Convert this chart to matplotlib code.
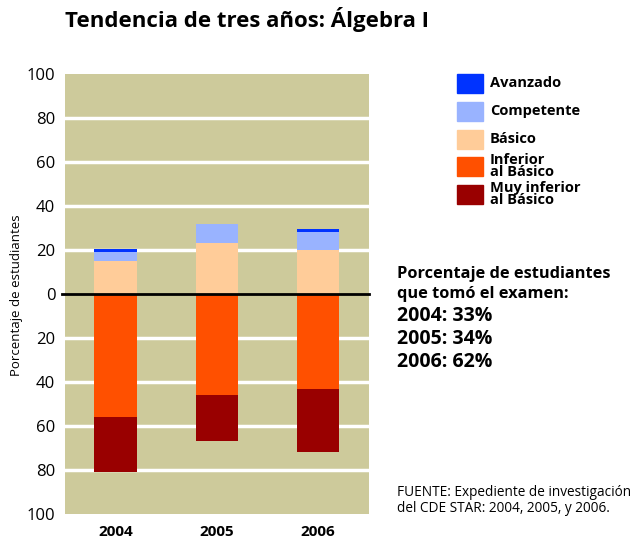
import numpy as np
import matplotlib.pyplot as plt
from matplotlib.patches import Rectangle

plt.rcParams['font.family'] = ['Open Sans', 'DejaVu Sans']

years = ['2004', '2005', '2006']
avanzado = [1.5, 0, 1.5]
competente = [4, 9, 8]
basico = [15, 23, 20]
inferior = [56, 46, 43]
muy_inferior = [25, 21, 29]
participacion = ['2004: 33%', '2005: 34%', '2006: 62%']

niveles = ['Avanzado', 'Competente', 'Básico', 'Inferior\nal Básico', 'Muy inferior\nal Básico']
colores = ['#0033ff', '#99b3ff', '#ffcc99', '#ff5000', '#990000']

fig = plt.figure(figsize=(6.38, 5.42), dpi=100)
ax = fig.add_axes([0.102, 0.0517, 0.476, 0.812])
ax.set_facecolor('#cdca9b')

x = np.arange(len(years))
w = 0.42
bas = np.array(basico)
comp = np.array(competente)
ax.bar(x, bas, w, color=colores[2], zorder=3)
ax.bar(x, comp, w, bottom=bas, color=colores[1], zorder=3)
ax.bar(x, avanzado, w, bottom=bas + comp, color=colores[0], zorder=3)
inf = -np.array(inferior)
ax.bar(x, inf, w, color=colores[3], zorder=3)
ax.bar(x, -np.array(muy_inferior), w, bottom=inf, color=colores[4], zorder=3)

ax.set_xlim(-0.5, 2.5)
ax.set_ylim(-100, 100)
ticks = np.arange(-100, 101, 20)
ax.set_yticks(ticks)
ax.set_yticklabels([str(abs(t)) for t in ticks], fontsize=12)
ax.set_xticks(x)
ax.set_xticklabels(years, fontsize=11, fontweight='bold')
ax.tick_params(length=0, pad=7)
ax.tick_params(axis='x', pad=8)
for s in ax.spines.values():
    s.set_visible(False)
for t in ticks[1:-1]:
    if t != 0:
        ax.axhline(t, color='white', lw=2.5, zorder=2)
ax.axhline(0, color='black', lw=2, zorder=4, xmin=-0.01, clip_on=False)

W, H = 638, 542
fig.text(17 / W, 1 - 295 / H, 'Porcentaje de estudiantes', fontsize=9.5,
         rotation=90, ha='center', va='center')

fig.text(65 / W, 1 - 20 / H, 'Tendencia de tres años: Álgebra I', fontsize=16,
         fontweight='bold', va='center')

# leyenda
ys = [83, 111, 139, 166, 194]
for lab, col, yc in zip(niveles, colores, ys):
    fig.patches.append(Rectangle((457 / W, (H - yc - 9.5) / H), 26 / W, 19 / H,
                                 color=col, transform=fig.transFigure))
    fig.text(490 / W, (H - yc) / H, lab, fontsize=10.5, fontweight='bold',
             va='center', linespacing=0.85)

fig.text(397 / W, 1 - 274 / H, 'Porcentaje de estudiantes', fontsize=11.8,
         fontweight='bold', va='center')
fig.text(397 / W, 1 - 294 / H, 'que tomó el examen:', fontsize=11.8,
         fontweight='bold', va='center')
for i, s in enumerate(participacion):
    fig.text(397 / W, 1 - (316 + 23 * i) / H, s, fontsize=14,
             fontweight='bold', va='center')

fig.text(397 / W, 1 - 493 / H, 'FUENTE: Expediente de investigación', fontsize=9.8,
         va='center')
fig.text(397 / W, 1 - 509 / H, 'del CDE STAR: 2004, 2005, y 2006.', fontsize=9.8,
         va='center')

fig.savefig('out.png', dpi=100)
